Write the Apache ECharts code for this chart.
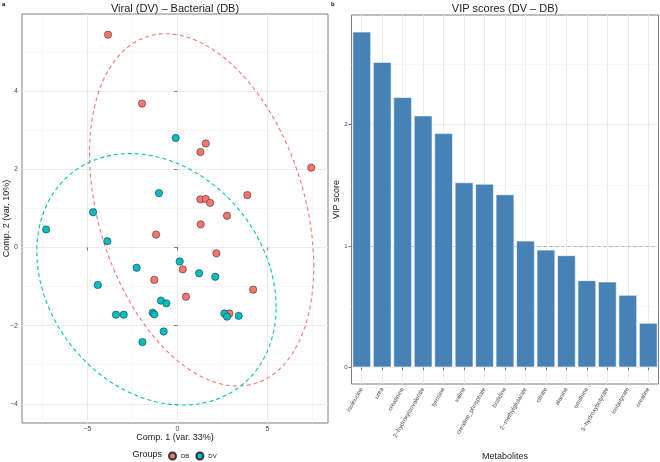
<!DOCTYPE html>
<html><head><meta charset="utf-8">
<script src="https://cdn.jsdelivr.net/npm/echarts@6/dist/echarts.min.js"></script>
<style>html,body{margin:0;padding:0;background:#fff}#c{width:660px;height:462px}</style>
</head><body><div id="c"></div>
<script>
// ---- Data ----
const dbPoints = [[-3.85,5.44],[-1.96,3.68],[1.58,2.66],[1.28,2.44],[7.44,2.04],[3.89,1.34],[1.28,1.23],[1.58,1.24],[1.82,1.14],[2.76,0.81],[1.30,0.59],[-1.18,0.33],[2.17,-0.15],[0.30,-0.56],[-1.28,-0.83],[4.21,-1.08],[0.48,-1.26],[2.89,-1.69]];
const dvPoints = [[-0.09,2.80],[-1.02,1.39],[-4.68,0.90],[-7.29,0.46],[-3.89,0.16],[0.13,-0.36],[-2.26,-0.52],[1.21,-0.66],[2.11,-0.75],[-4.42,-0.96],[-0.91,-1.36],[-0.61,-1.43],[-3.41,-1.72],[-2.98,-1.72],[-1.37,-1.67],[-1.28,-1.71],[2.61,-1.69],[2.76,-1.77],[3.41,-1.75],[-0.76,-2.15],[-1.94,-2.42]];
// ellipse: [centerX, centerY, varX, varY, covXY]
const dbEllipse = [1.35, 0.96, 38.8, 20.3, -9.0];
const dvEllipse = [-1.16, -0.815, 44.2, 10.34, -4.73];
const groups = ['DB','DV'];
const xTicks = [-5, 0, 5];
const yTicks = [-4, -2, 0, 2, 4];
const xMinor = [-7.5, -2.5, 2.5, 7.5];
const yMinor = [-3, -1, 1, 3, 5];

const metabolites = ['isoleucine','urea','creatinine','2\u2212hydroxyisovalerate','tyrosine','valine','creatine_phosphate','histidine','2\u2212methylglutarate','citrate','alanine','ornithine','3\u2212hydroxybutyrate','isobutyrate','creatine'];
const vipScores = [2.765, 2.515, 2.225, 2.074, 1.928, 1.523, 1.511, 1.424, 1.042, 0.968, 0.922, 0.716, 0.705, 0.595, 0.365];
const vipTicks = [0, 1, 2];
const vipMinor = [0.5, 1.5, 2.5];
const vipThreshold = 1;

// ---- helpers ----
function ellipsePoints(p) {
  const [cx, cy, sxx, syy, sxy] = p;
  const l11 = Math.sqrt(sxx), l21 = sxy / l11, l22 = Math.sqrt(syy - l21 * l21);
  const pts = [];
  for (let i = 0; i <= 160; i++) {
    const t = 2 * Math.PI * i / 160;
    pts.push([cx + l11 * Math.cos(t), cy + l21 * Math.cos(t) + l22 * Math.sin(t)]);
  }
  return pts;
}
const minus = v => String(v).replace('-', '\u2212');
const FONT = '"Liberation Sans", Arial, Helvetica, sans-serif';
const colDB = '#F8766D', colDV = '#00BFC4';
const major = {color: '#ebebeb', width: 1, type: 'solid'};
const minor = {color: '#f4f4f4', width: 0.6, type: 'solid'};

const gridLinesLeft = [
  ...xTicks.map(v => ({xAxis: v, lineStyle: major})),
  ...xMinor.map(v => ({xAxis: v, lineStyle: minor})),
  ...yTicks.map(v => ({yAxis: v, lineStyle: major})),
  ...yMinor.map(v => ({yAxis: v, lineStyle: minor}))
];
const gridLinesRight = [
  ...metabolites.map(m => ({xAxis: m, lineStyle: major})),
  ...vipTicks.map(v => ({yAxis: v, lineStyle: major})),
  ...vipMinor.map(v => ({yAxis: v, lineStyle: minor})),
  {yAxis: vipThreshold, lineStyle: {color: '#b3b3b3', width: 1, type: [3, 3]}}
];
const mlBase = {silent: true, symbol: 'none', label: {show: false}, animation: false, z: 0};

const tickStyle = {show: true, length: 3, lineStyle: {color: '#555', width: 0.8}};
const labelStyle = {color: '#4d4d4d', fontFamily: FONT};
const nameStyle = {fontSize: 9, color: '#1a1a1a', fontFamily: FONT};

const chart = echarts.init(document.getElementById('c'), null, {renderer: 'canvas'});
chart.setOption({
  animation: false,
  textStyle: {fontFamily: FONT},
  title: [
    {text: 'Viral (DV) \u2013 Bacterial (DB)', left: 175, top: 3, padding: 0, textAlign: 'center',
     textStyle: {fontSize: 11, fontWeight: 'normal', color: '#1a1a1a', fontFamily: FONT}},
    {text: 'VIP scores (DV \u2013 DB)', left: 505, top: 3, padding: 0, textAlign: 'center',
     textStyle: {fontSize: 11, fontWeight: 'normal', color: '#1a1a1a', fontFamily: FONT}}
  ],
  graphic: [
    {type: 'text', left: 2, top: 1, style: {text: 'a', fill: '#000', font: 'bold 6px ' + FONT}},
    {type: 'text', left: 331, top: 1, style: {text: 'b', fill: '#000', font: 'bold 6px ' + FONT}},
    {type: 'text', left: 132.5, top: 450, style: {text: 'Groups', fill: '#1a1a1a', font: '9px ' + FONT}}
  ],
  legend: {
    left: 168, top: 451.5, padding: 0, itemWidth: 7, itemHeight: 7, itemGap: 6, icon: 'circle',
    data: groups, textStyle: {fontSize: 6, color: '#1a1a1a', fontFamily: FONT}
  },
  grid: [
    {left: 22, top: 14, width: 306, height: 409, show: true, borderColor: '#7f7f7f', borderWidth: 1,
     backgroundColor: 'transparent', outerBoundsMode: 'none', containLabel: false},
    {left: 351.5, top: 15, width: 307, height: 369, show: true, borderColor: '#7f7f7f', borderWidth: 1,
     backgroundColor: 'transparent', outerBoundsMode: 'none', containLabel: false}
  ],
  xAxis: [
    {type: 'value', gridIndex: 0, min: -8.63, max: 8.37,
     name: 'Comp. 1 (var. 33%)', nameLocation: 'middle', nameGap: 10, nameMoveOverlap: false,
     nameTextStyle: nameStyle,
     axisLine: {show: false}, splitLine: {show: false},
     axisTick: Object.assign({customValues: xTicks}, tickStyle),
     axisLabel: Object.assign({customValues: xTicks, fontSize: 7, margin: 3, formatter: minus}, labelStyle)},
    {type: 'category', gridIndex: 1, data: metabolites, boundaryGap: true,
     name: 'Metabolites', nameLocation: 'middle', nameGap: 68, nameMoveOverlap: false,
     nameTextStyle: nameStyle,
     axisLine: {show: false}, splitLine: {show: false},
     axisTick: Object.assign({alignWithLabel: true, interval: 0}, tickStyle),
     axisLabel: Object.assign({interval: 0, rotate: 60, fontSize: 6, margin: 4}, labelStyle)}
  ],
  yAxis: [
    {type: 'value', gridIndex: 0, min: -4.49, max: 5.97,
     name: 'Comp. 2 (var. 10%)', nameLocation: 'middle', nameGap: 11, nameMoveOverlap: false,
     nameTextStyle: nameStyle,
     axisLine: {show: false}, splitLine: {show: false},
     axisTick: Object.assign({customValues: yTicks}, tickStyle),
     axisLabel: Object.assign({customValues: yTicks, fontSize: 7, margin: 4, formatter: minus}, labelStyle)},
    {type: 'value', gridIndex: 1, min: -0.138, max: 2.903,
     name: 'VIP score', nameLocation: 'middle', nameGap: 10.5, nameMoveOverlap: false,
     nameTextStyle: nameStyle,
     axisLine: {show: false}, splitLine: {show: false},
     axisTick: Object.assign({customValues: vipTicks}, tickStyle),
     axisLabel: Object.assign({customValues: vipTicks, fontSize: 6, margin: 4}, labelStyle)}
  ],
  series: [
    {type: 'line', xAxisIndex: 0, yAxisIndex: 0, data: [], z: 0,
     markLine: Object.assign({data: gridLinesLeft}, mlBase)},
    {type: 'line', name: 'DB ellipse', xAxisIndex: 0, yAxisIndex: 0, data: ellipsePoints(dbEllipse),
     showSymbol: false, symbol: 'none', z: 2, silent: true,
     lineStyle: {color: colDB, width: 1.1, type: [4, 3]}},
    {type: 'line', name: 'DV ellipse', xAxisIndex: 0, yAxisIndex: 0, data: ellipsePoints(dvEllipse),
     showSymbol: false, symbol: 'none', z: 2, silent: true,
     lineStyle: {color: colDV, width: 1.1, type: [4, 3]}},
    {type: 'scatter', name: 'DB', xAxisIndex: 0, yAxisIndex: 0, data: dbPoints, symbolSize: 7.3, z: 3,
     itemStyle: {color: colDB, borderColor: '#333', borderWidth: 0.6, opacity: 1}},
    {type: 'scatter', name: 'DV', xAxisIndex: 0, yAxisIndex: 0, data: dvPoints, symbolSize: 7.3, z: 3,
     itemStyle: {color: colDV, borderColor: '#333', borderWidth: 0.6, opacity: 1}},
    {type: 'line', xAxisIndex: 1, yAxisIndex: 1, data: [], z: 0,
     markLine: Object.assign({data: gridLinesRight}, mlBase)},
    {type: 'bar', xAxisIndex: 1, yAxisIndex: 1, data: vipScores, barCategoryGap: '10%', z: 3,
     itemStyle: {color: '#4682B4', borderColor: '#ffffff', borderWidth: 0.6}}
  ]
});
</script>
</body></html>
